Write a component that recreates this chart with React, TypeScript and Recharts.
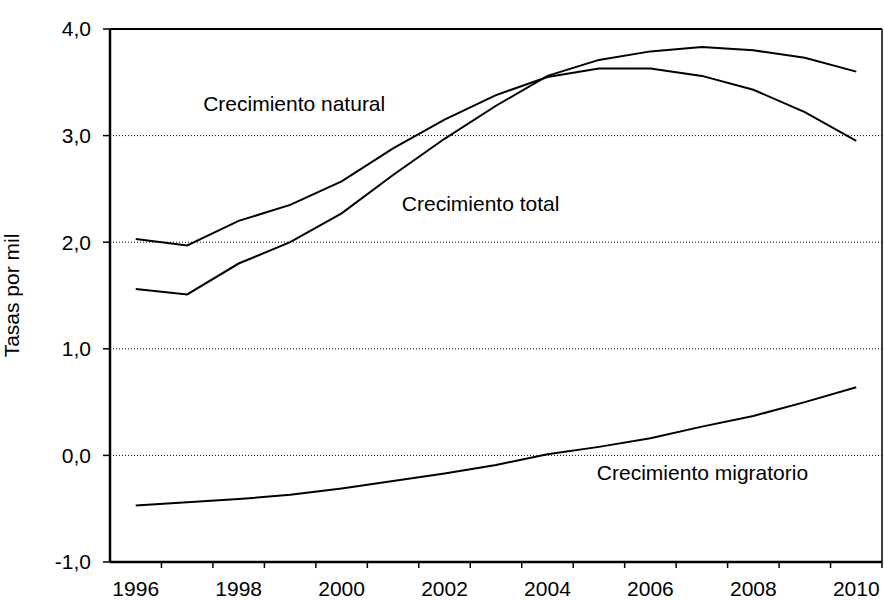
import React from "react";
import {
  LineChart,
  Line,
  XAxis,
  YAxis,
  CartesianGrid,
  ReferenceLine,
  ReferenceDot,
} from "recharts";

// Years and rates (per thousand)
const years = [1996, 1997, 1998, 1999, 2000, 2001, 2002, 2003, 2004, 2005, 2006, 2007, 2008, 2009, 2010];
const natural = [2.03, 1.97, 2.2, 2.35, 2.57, 2.88, 3.15, 3.38, 3.55, 3.63, 3.63, 3.56, 3.43, 3.22, 2.95];
const total = [1.56, 1.51, 1.8, 2.0, 2.27, 2.63, 2.97, 3.28, 3.56, 3.71, 3.79, 3.83, 3.8, 3.73, 3.6];
const migratorio = [-0.47, -0.44, -0.41, -0.37, -0.31, -0.24, -0.17, -0.09, 0.01, 0.08, 0.16, 0.27, 0.37, 0.5, 0.64];

const yTicks = [-1, 0, 1, 2, 3, 4];
const yearLabels = [1996, 1998, 2000, 2002, 2004, 2006, 2008, 2010];
// category boundaries get the small tick marks
const boundaries = [1995.5, 1996.5, 1997.5, 1998.5, 1999.5, 2000.5, 2001.5, 2002.5, 2003.5, 2004.5, 2005.5, 2006.5, 2007.5, 2008.5, 2009.5, 2010.5];

// series names written inside the plot
const noteText = ["Crecimiento natural", "Crecimiento total", "Crecimiento migratorio"];
const noteX = [1997.31, 2001.17, 2004.96];
const noteY = [3.23, 2.29, -0.23];

const data = years.map((year, i) => ({
  year,
  natural: natural[i],
  total: total[i],
  migratorio: migratorio[i],
}));

const xTicks = [...boundaries, ...yearLabels].sort((a, b) => a - b);

const font = "'Liberation Sans', Arial, Helvetica, sans-serif";

const YearTick = (props: any) => {
  const { x, y, payload } = props;
  const v = payload.value;
  if (v % 1 !== 0) {
    if (v === 1995.5) return null;
    return <line x1={x} x2={x} y1={y} y2={y + 6} stroke="#000" strokeWidth={1.5} />;
  }
  return (
    <text x={x} y={y + 34} textAnchor="middle" fontSize={21} fontFamily={font} fill="#000">
      {v}
    </text>
  );
};

const NoteLabel = ({ viewBox, text }: any) => (
  <text x={viewBox.x} y={viewBox.y} fontSize={21} fontFamily={font} fill="#000" textAnchor="start">
    {text}
  </text>
);

export default function App() {
  return (
    <div style={{ position: "absolute", left: 0, top: 0, background: "#fff" }}>
      <LineChart
        width={884}
        height={601}
        data={data}
        margin={{ top: 29, right: 2, bottom: 0, left: 0 }}
      >
        <CartesianGrid
          horizontal={true}
          vertical={false}
          stroke="#000"
          strokeDasharray="1 2"
          horizontalValues={[0, 1, 2, 3]}
        />
        <XAxis
          dataKey="year"
          type="number"
          domain={[1995.5, 2010.5]}
          ticks={xTicks}
          interval={0}
          height={39}
          tickSize={0}
          tickMargin={0}
          tickLine={false}
          axisLine={{ stroke: "#000", strokeWidth: 2.5 }}
          tick={<YearTick />}
        />
        <YAxis
          type="number"
          domain={[-1, 4]}
          ticks={yTicks}
          width={110}
          tickSize={7}
          tickMargin={12}
          tickLine={{ stroke: "#000", strokeWidth: 1.5 }}
          axisLine={{ stroke: "#000", strokeWidth: 2.5 }}
          tickFormatter={(v: number) => v.toFixed(1).replace(".", ",")}
          tick={{ fontSize: 21, fontFamily: font, fill: "#000" }}
          label={{
            value: "Tasas por mil",
            angle: -90,
            position: "insideLeft",
            offset: 4,
            dx: 8,
            style: { fontSize: 21, fontFamily: font, fill: "#000", textAnchor: "middle" },
          }}
        />
        <ReferenceLine y={4} stroke="#000" strokeWidth={2} />
        <ReferenceLine x={2010.5} stroke="#000" strokeWidth={1.5} />
        <Line type="linear" dataKey="natural" stroke="#000" strokeWidth={2} dot={false} isAnimationActive={false} />
        <Line type="linear" dataKey="total" stroke="#000" strokeWidth={2} dot={false} isAnimationActive={false} />
        <Line type="linear" dataKey="migratorio" stroke="#000" strokeWidth={2} dot={false} isAnimationActive={false} />
        {noteText.map((t, i) => (
          <ReferenceDot
            key={t}
            x={noteX[i]}
            y={noteY[i]}
            r={0}
            fill="none"
            stroke="none"
            label={(p: any) => <NoteLabel {...p} text={t} />}
          />
        ))}
      </LineChart>
    </div>
  );
}
